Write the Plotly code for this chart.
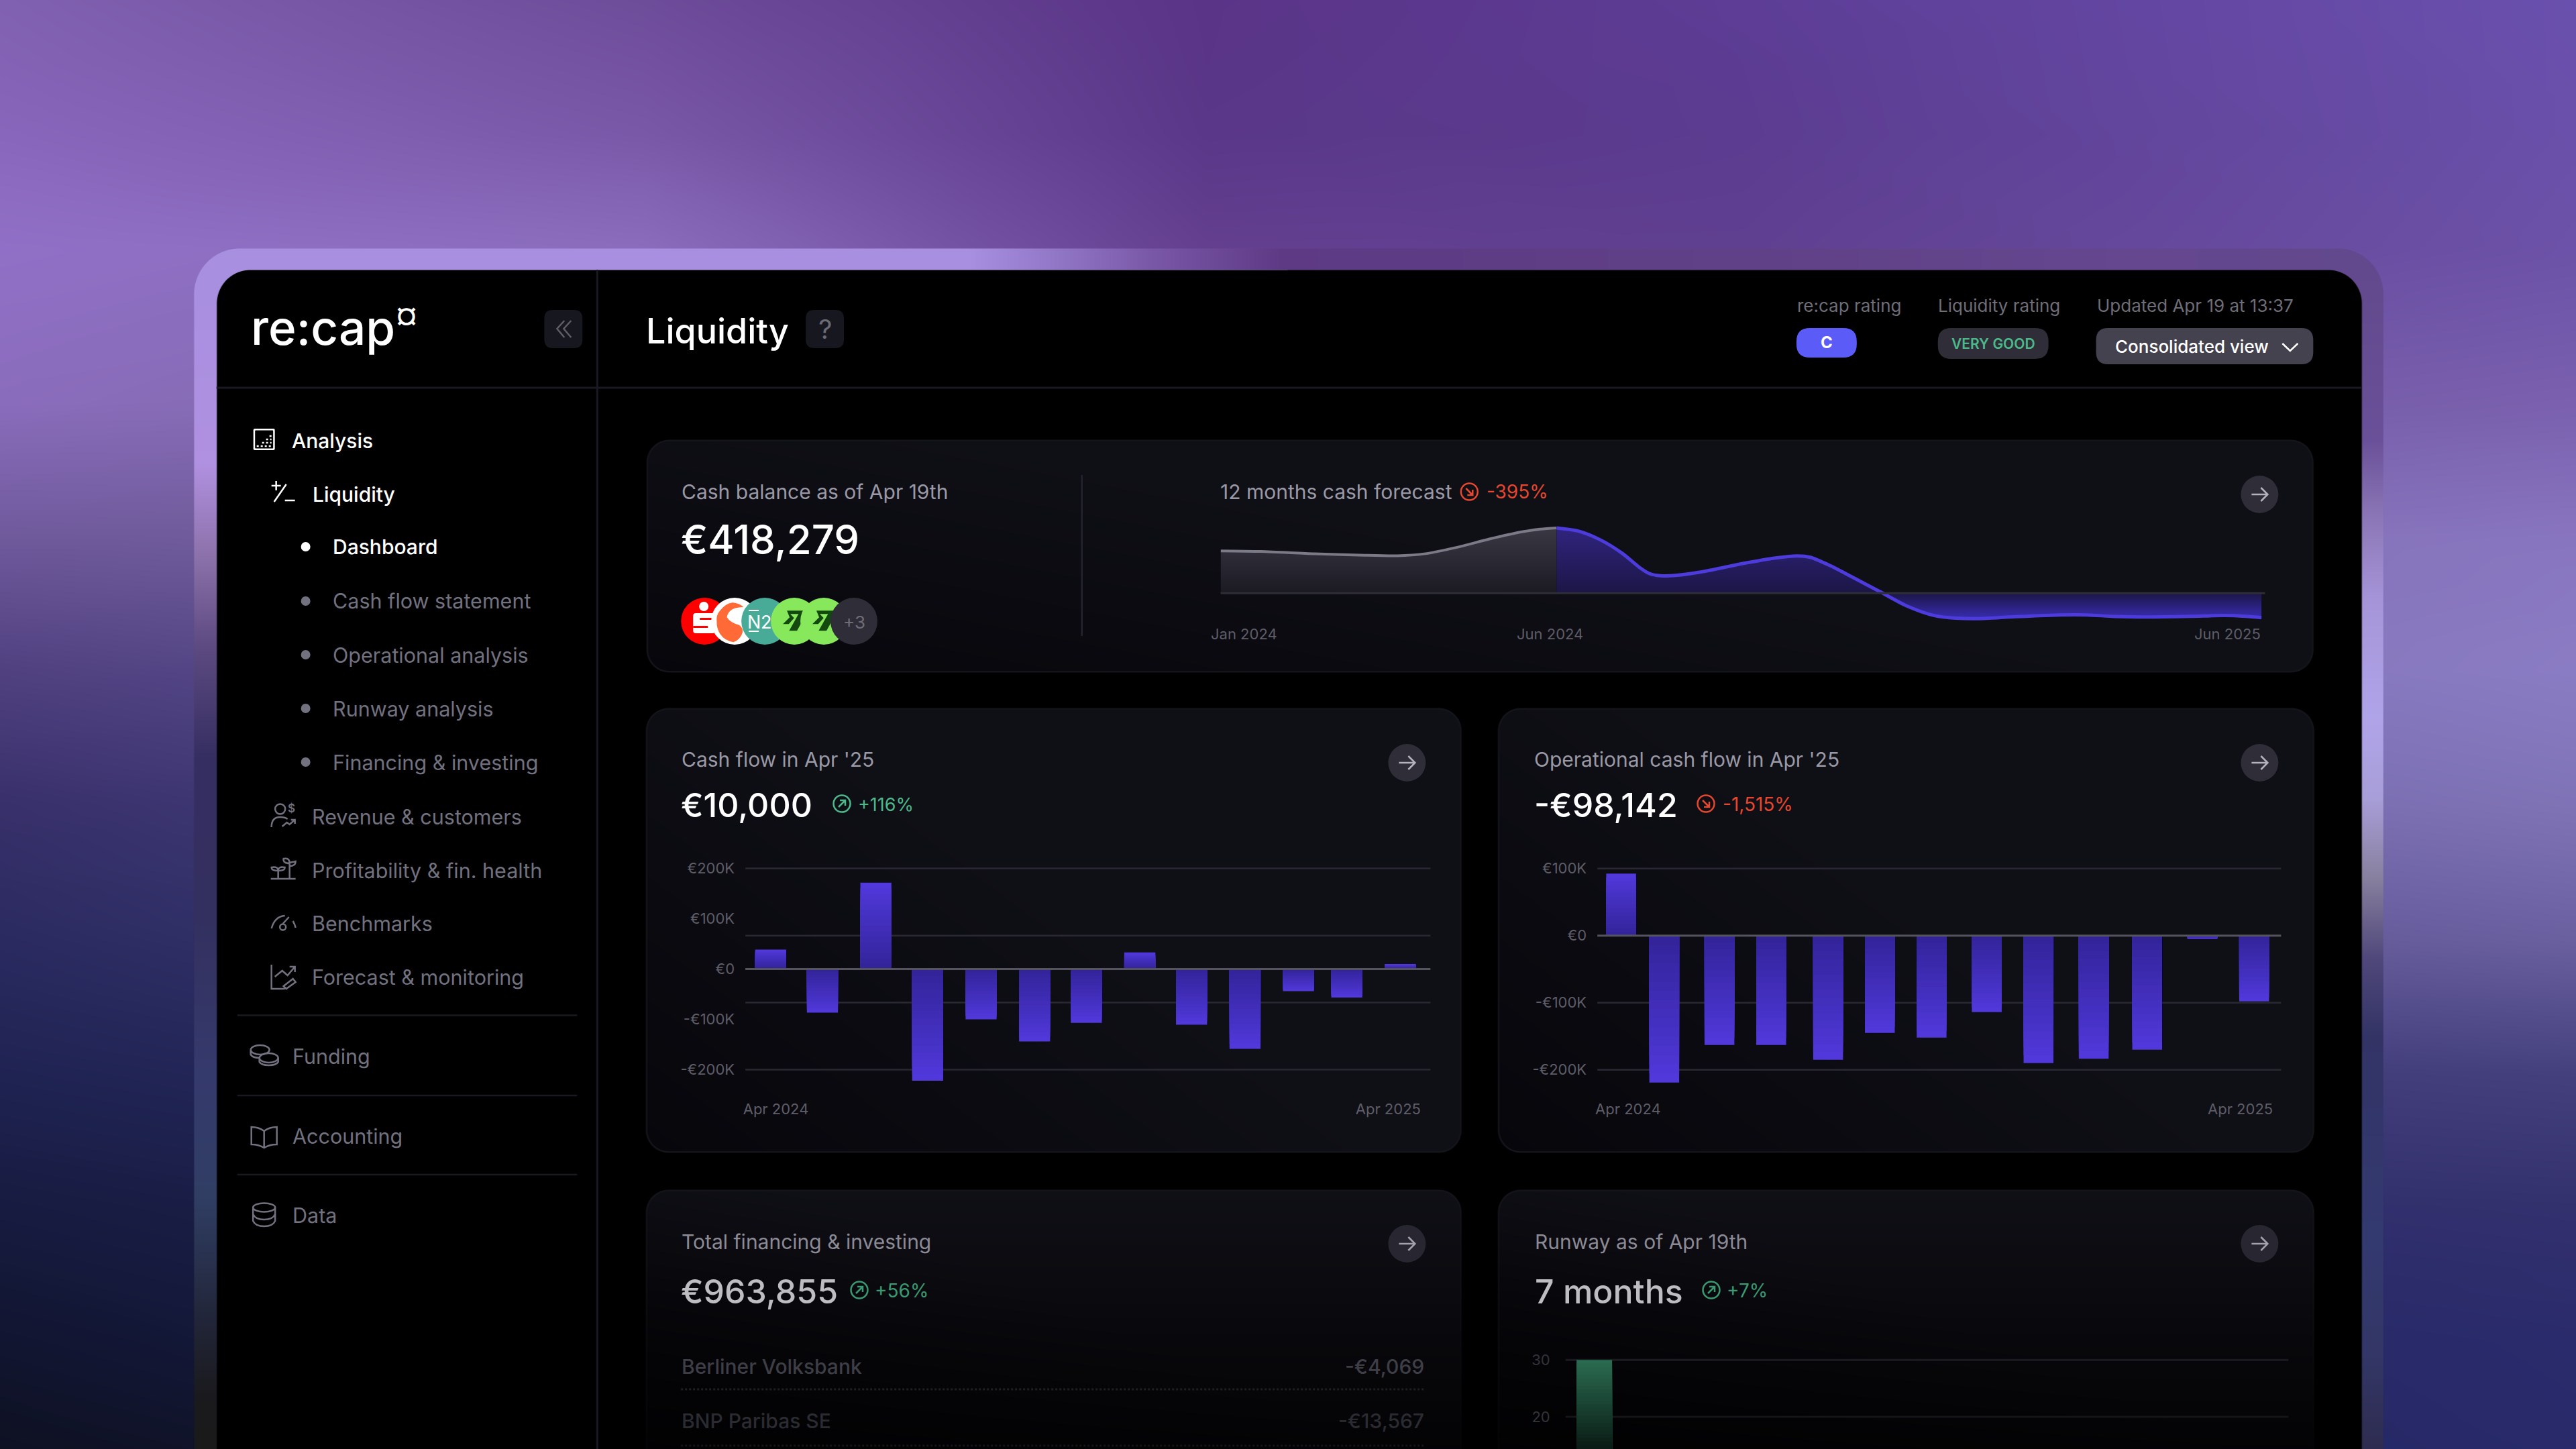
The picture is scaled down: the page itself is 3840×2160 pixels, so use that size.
import base64, re, struct, zlib
import numpy as np
import plotly.graph_objects as go

W, H = 3840, 2160
PAD = 6
FW = W + 2 * PAD
FONT = "Inter"

# ------------------------------------------------------------------ data
cash_flow_dates = ["2024-04-01", "2024-05-01", "2024-06-01", "2024-07-01", "2024-08-01", "2024-09-01", "2024-10-01",
                   "2024-11-01", "2024-12-01", "2025-01-01", "2025-02-01", "2025-03-01", "2025-04-01"]
cash_flow_k = [38.7, -86.7, 171.7, -222, -100, -143.9, -106.9, 33, -110.4, -158.4, -43.9, -56.6, 10]
cash_flow_grid_k = [200, 66.5, -66.5, -200]
cash_flow_ticks = [200, 100, 0, -100, -200]
cash_flow_labels = ["€200K", "€100K", "€0", "-€100K", "-€200K"]

op_flow_dates = ["2024-04-06", "2024-05-01", "2024-06-02", "2024-07-02", "2024-08-04", "2024-09-03", "2024-10-03",
                 "2024-11-04", "2024-12-04", "2025-01-05", "2025-02-05", "2025-03-09", "2025-04-08"]
op_flow_k = [92.4, -219, -163, -163, -185, -145, -152, -114, -190, -183.5, -170, -5, -98.1]
op_flow_grid_k = [100, -100, -200]
op_flow_ticks = [100, 0, -100, -200]
op_flow_labels = ["€100K", "€0", "-€100K", "-€200K"]

history_month = [0, 0.6, 1.4, 2.06, 2.63, 3.03, 3.52, 4.01, 4.5, 4.76, 5]
history_k = [271, 267, 252, 244, 240, 252, 294, 348, 394, 410, 418]
forecast_month = [0, 0.37, 0.75, 1.12, 1.4, 1.58, 1.77, 2.05, 2.52, 3.17, 3.73, 4.1, 4.32, 4.66, 5.03, 5.5,
                  5.96, 6.43, 6.8, 7.17, 7.82, 8.57, 9.03, 9.5, 10.06, 10.8, 11.36, 11.73, 12]
forecast_k = [418, 398, 341, 255, 169, 126, 112, 115, 140, 190, 226, 239, 230, 176, 104, 11,
              -81, -143, -160, -163, -150, -139, -139, -149, -152, -148, -143, -148, -156]

runway_x = [0]
runway_months = [30]
runway_ticks = [30, 20]

nav_white = [("Analysis", 433, 657), ("Liquidity", 464, 737), ("Dashboard", 494, 815)]
nav_sub = [("Cash flow statement", 494, 896), ("Operational analysis", 494, 976),
           ("Runway analysis", 494, 1056), ("Financing & investing", 494, 1136)]
nav_main = [("Revenue & customers", 463, 1217), ("Profitability & fin. health", 463, 1297),
            ("Benchmarks", 463, 1376), ("Forecast & monitoring", 463, 1456),
            ("Funding", 434, 1574), ("Accounting", 434, 1693), ("Data", 434, 1811)]


# ------------------------------------------------------------------ backdrop raster (decoration only)
def hx(s):
    s = s.lstrip("#")
    return [int(s[i:i + 2], 16) for i in (0, 2, 4)]


def ramp(pos, cols, coords):
    c = np.array([hx(k) for k in cols], dtype=np.float32)
    return np.stack([np.interp(coords, pos, c[:, i]) for i in range(3)], axis=-1).astype(np.float32)


def backdrop():
    ys = np.arange(H, dtype=np.float32)
    xs = np.arange(FW, dtype=np.float32) - PAD
    X, Y = np.meshgrid(xs, ys)
    rows = [0, 200, 370, 600, 800, 1000, 1200, 1400, 1600, 1800, 2000, 2160]
    col_x = [0, 960, 1800, 2600, 3840]
    grid = [
        ["#8060b0", "#6d4c9a", "#5a3487", "#5d3d96", "#6a50ae"],
        ["#8866bb", "#7a58a8", "#5a3788", "#5b3c90", "#6a50aa"],
        ["#9070c6", "#8a6cbc", "#643f90", "#5f3f90", "#6c52a8"],
        ["#8a6cbc", "#806aaa", "#705aa0", "#7058a0", "#7a60ae"],
        ["#6f5a9c", "#706099", "#7868a8", "#8070b0", "#8875c0"],
        ["#504080", "#5a5090", "#6a6098", "#8070b0", "#8a7cc4"],
        ["#38306a", "#444080", "#5a5090", "#7064a8", "#7f73b6"],
        ["#2a2a60", "#3a3870", "#484480", "#5a5090", "#6a60a0"],
        ["#1f2352", "#282a60", "#303068", "#3a3870", "#44407e"],
        ["#171b40", "#1e2250", "#242860", "#2c2c68", "#33306e"],
        ["#111530", "#181c48", "#1e2258", "#242660", "#2a2b6c"],
        ["#0e1122", "#141838", "#1a1e50", "#20245c", "#282a6a"],
    ]
    g = np.array([[hx(c) for c in r] for r in grid], dtype=np.float32)
    by_col = np.stack([np.stack([np.interp(ys, rows, g[:, j, k]) for j in range(5)], -1) for k in range(3)], -1)
    img = np.stack([np.stack([np.interp(xs, col_x, by_col[r, :, k]) for r in range(0, H, 8)], 0) for k in range(3)], -1)
    img = img.astype(np.float32)
    # expand the coarse rows
    idx = np.arange(H) / 8.0
    i0 = np.clip(np.floor(idx).astype(int), 0, img.shape[0] - 2)
    f = (idx - i0)[:, None, None].astype(np.float32)
    img = img[i0] * (1 - f) + img[i0 + 1] * f

    def rr(x0, y0, x1, y1, r):
        cx, cy = (x0 + x1) / 2, (y0 + y1) / 2
        qx = np.abs(X - cx) - ((x1 - x0) / 2 - r)
        qy = np.abs(Y - cy) - ((y1 - y0) / 2 - r)
        return np.hypot(np.maximum(qx, 0), np.maximum(qy, 0)) + np.minimum(np.maximum(qx, qy), 0) - r

    def paint(col, a):
        nonlocal img
        img = img * (1 - a[..., None]) + col * a[..., None]

    # bright frame around the app window
    cl = ramp([402, 691, 834, 964, 1130, 1367, 1605, 1783, 1960, 2079, 2160],
              ["#a88fe0", "#b090e0", "#8a70a8", "#5c4a80", "#352e60", "#33305f", "#353a6c", "#303e64", "#22263a",
               "#1a1a1e", "#1a1a1a"], ys)
    cr = ramp([402, 656, 775, 893, 1071, 1190, 1308, 1427, 1545, 1842, 2020, 2160],
              ["#62488c", "#6a5098", "#8c78b8", "#a594d8", "#b0a4e8", "#a89ed8", "#88809f", "#50487a", "#333366",
               "#333a70", "#333666", "#2e2c50"], ys)
    ct = ramp([288, 1445, 1568, 1715, 1911, 2450, 3186, 3554],
              ["#a88fe0", "#a88fe0", "#9378c8", "#7a58a8", "#5e3a85", "#5f3f85", "#64478f", "#62488c"], xs)
    frame = np.where((X < 1920)[..., None], cl[:, None, :], cr[:, None, :])
    frame = np.where((Y < 402)[..., None], ct[None, :, :], frame).astype(np.float32)
    paint(frame, np.clip(0.5 - rr(288, 370, 3554, 2400, 68), 0, 1))

    # black app panel
    paint(np.zeros(3, dtype=np.float32), np.clip(0.5 - rr(322, 402, 3522, 2400, 50), 0, 1))

    # cards
    dark = np.array(hx("#06060b"), dtype=np.float32)
    light = np.array(hx("#0f0f16"), dtype=np.float32)
    edge = np.array(hx("#14141b"), dtype=np.float32)
    for x0, y0, x1, y1, fade in [(963, 655, 3450, 1002, False), (962, 1055, 2179, 1718, False),
                                 (2233, 1055, 3451, 1718, False), (962, 1773, 2179, 2400, True),
                                 (2233, 1773, 3451, 2400, True)]:
        d = rr(x0, y0, x1, y1, 34)
        u = np.clip((X - x0) / (x1 - x0), 0, 1)
        v = np.clip((Y - y0) / (min(y1, H) - y0), 0, 1)
        t = np.clip(u * 1.1 + (1 - v) * 0.8, 0, 1)[..., None]
        fill = dark * (1 - t) + light * t
        e = np.broadcast_to(edge, fill.shape)
        if fade:
            k = (1 - 0.78 * np.clip((Y - y0) / (H - y0), 0, 1))[..., None]
            fill = fill * k
            e = e * k
        paint(e.astype(np.float32), np.clip(0.5 - d, 0, 1))
        paint(fill.astype(np.float32), np.clip(0.5 - (d + 2.5), 0, 1))
    return np.clip(img + 0.5, 0, 255).astype(np.uint8)


def png_uri(a):
    h, w, _ = a.shape
    raw = a.astype(np.int16)
    up = (raw - np.vstack([np.zeros((1, w, 3), dtype=np.int16), raw[:-1]])) % 256
    body = np.concatenate([np.full((h, 1), 2, dtype=np.uint8), up.astype(np.uint8).reshape(h, -1)], axis=1).tobytes()

    def chunk(tag, d):
        return struct.pack(">I", len(d)) + tag + d + struct.pack(">I", zlib.crc32(tag + d) & 0xffffffff)

    data = b"\x89PNG\r\n\x1a\n" + chunk(b"IHDR", struct.pack(">IIBBBBB", w, h, 8, 2, 0, 0, 0)) + \
        chunk(b"IDAT", zlib.compress(body, 6)) + chunk(b"IEND", b"")
    return "data:image/png;base64," + base64.b64encode(data).decode()


# ------------------------------------------------------------------ px helpers
shapes, annos = [], []


def px(x): return (x + PAD) / FW
def py(y): return 1 - y / H


def path_px(s):
    out, is_x = [], True
    for tok in re.findall(r"[A-Za-z]|-?\d+\.?\d*", s):
        if tok.isalpha():
            out.append(tok)
            is_x = True
        else:
            out.append(f"{px(float(tok)) if is_x else py(float(tok)):.6f}")
            is_x = not is_x
    return " ".join(out)


def sh_path(s, fill=None, line=None, lw=0, layer="above", dash=None):
    d = dict(type="path", path=path_px(s), xref="paper", yref="paper", layer=layer,
             line=dict(width=lw, color=line or "rgba(0,0,0,0)"))
    if dash:
        d["line"]["dash"] = dash
    d["fillcolor"] = fill or "rgba(0,0,0,0)"
    shapes.append(d)


def rrect(x0, y0, x1, y1, r, fill):
    sh_path(f"M{x0 + r},{y0} L{x1 - r},{y0} Q{x1},{y0} {x1},{y0 + r} L{x1},{y1 - r} Q{x1},{y1} {x1 - r},{y1} "
            f"L{x0 + r},{y1} Q{x0},{y1} {x0},{y1 - r} L{x0},{y0 + r} Q{x0},{y0} {x0 + r},{y0} Z", fill=fill)


def ell(cx, cy, rx, ry, fill=None, line=None, lw=0):
    shapes.append(dict(type="circle", xref="paper", yref="paper", x0=px(cx - rx), x1=px(cx + rx), y0=py(cy + ry),
                       y1=py(cy - ry), fillcolor=fill or "rgba(0,0,0,0)", layer="above",
                       line=dict(width=lw, color=line or "rgba(0,0,0,0)")))


def hline(x0, x1, y, col, w=2, dash=None, layer="below"):
    ln = dict(color=col, width=w)
    if dash:
        ln["dash"] = dash
    shapes.append(dict(type="line", xref="paper", yref="paper", x0=px(x0), x1=px(x1), y0=py(y), y1=py(y), line=ln,
                       layer=layer))


def vline(x, y0, y1, col, w=2):
    shapes.append(dict(type="line", xref="paper", yref="paper", x0=px(x), x1=px(x), y0=py(y0), y1=py(y1),
                       line=dict(color=col, width=w), layer="below"))


def txt(x, y, s, size, col, anchor="left", weight=400, family=FONT):
    annos.append(dict(x=px(x), y=py(y), xref="paper", yref="paper", text=s, showarrow=False, xanchor=anchor,
                      yanchor="middle", borderpad=0, font=dict(family=family, size=size, color=col, weight=weight)))


def arrow_button(cx, cy, col="#b4b3bd", fill="#2e2d38"):
    ell(cx, cy, 28, 28, fill=fill)
    sh_path(f"M{cx - 12},{cy} L{cx + 12},{cy} M{cx + 2},{cy - 10} L{cx + 12},{cy} L{cx + 2},{cy + 10}", line=col, lw=2.5)


def trend_icon(cx, cy, col, up=True):
    ell(cx, cy, 12.5, 12.5, line=col, lw=2.5)
    if up:
        sh_path(f"M{cx - 5},{cy + 5} L{cx + 5},{cy - 5} M{cx - 3},{cy - 5} L{cx + 5},{cy - 5} L{cx + 5},{cy + 3}",
                line=col, lw=2.5)
    else:
        sh_path(f"M{cx - 5},{cy - 5} L{cx + 5},{cy + 5} M{cx - 3},{cy + 5} L{cx + 5},{cy + 5} L{cx + 5},{cy - 3}",
                line=col, lw=2.5)


GREY = "#72717f"
LABEL = "#9a99a5"
TICK = "#5e5d68"
GREEN = "#4db88a"
RED = "#e5472f"
SEP = "#191922"

# separators
hline(322, 3522, 578, SEP, 3)
vline(890, 402, 2160, SEP, 3)
for yy in (1513.5, 1633, 1751):
    hline(353, 860, yy, SEP, 2.5)
vline(1613, 708, 948, "#24242e", 2.5)

# logo + header
txt(372, 488, "re:cap", 71, "#ffffff", weight=500)
txt(605, 470, "¤", 42, "#ffffff", "center", weight=700)
rrect(811, 462, 868, 519, 13, "#17171f")
sh_path("M841,478 L830,490 L841,503 M851,478 L840,490 L851,503", line="#5e5d68", lw=2.5)
txt(962, 493, "Liquidity", 52, "#ffffff", weight=500)
rrect(1201, 462, 1258, 519, 13, "#17171f")
txt(1229.5, 491, "?", 40, "#6c6c76", "center")

txt(2679, 455, "re:cap rating", 26, "#6e6d78")
txt(2889, 455, "Liquidity rating", 26, "#6e6d78")
txt(3126, 455, "Updated Apr 19 at 13:37", 26, "#6e6d78")
rrect(2679, 489, 2769, 533, 20, "#5b5cf8")
txt(2724, 511, "C", 24, "#ffffff", "center", weight=700)
rrect(2890, 489, 3055, 535, 20, "#2e2d38")
txt(2972.5, 512, "VERY GOOD", 21, GREEN, "center", weight=600)
rrect(3126, 489, 3450, 543, 18, "#45424f")
txt(3153, 516, "Consolidated view", 26, "#ffffff", weight=500)
sh_path("M3404,512 L3415.5,523 L3427,512", line="#ffffff", lw=2.5)

# nav text
for s, x, y in nav_white:
    txt(x, y, s, 30, "#ffffff", weight=500)
for s, x, y in nav_sub + nav_main:
    txt(x, y, s, 30.5, GREY)
ell(455, 815, 7, 7, fill="#ffffff")
for _, _, y in nav_sub:
    ell(455, y, 7, 7, fill=GREY)

# nav icons
rrect(377, 639, 409, 671, 2, "rgba(255,255,255,1)")
rrect(379.5, 641.5, 406.5, 668.5, 1, "#000000")
sh_path("M382,665 L404,665 M390,660 L404,660 M396,655 L404,655 M401,650 L404,650", line="#ffffff", lw=2.5, dash="dot")
sh_path("M404,724 L418,724 M411,717 L411,731 M408,748 L426,722 M424,746 L439,746", line="#ffffff", lw=2.5)
ic = GREY
ell(417, 1206, 7.5, 7.5, line=ic, lw=2.5)
sh_path("M404,1233 Q404,1218 417,1218 Q424,1218 428,1221 M420,1232 L427,1226 L431,1229 L439,1222 M433,1222 L439,1222 L439,1228",
        line=ic, lw=2.5)
txt(434, 1205, "$", 17, ic, "center", weight=600)
sh_path("M403,1310 L440,1310 M431,1310 L431,1285 M414,1310 L414,1298 M431,1287 Q421,1287 422,1280 Q431,1278 431,1287 "
        "M431,1286 L440,1284 Q440,1291 431,1291 M414,1298 Q404,1298 404,1293 Q414,1291 414,1298 "
        "M414,1298 Q424,1298 424,1293 Q414,1291 414,1298", line=ic, lw=2.5)
sh_path("M404,1384 Q409,1366 424,1365 M430,1367 L421,1377 M436,1373 Q439,1378 440,1383", line=ic, lw=2.5)
ell(421, 1382, 4.5, 4.5, line=ic, lw=2.5)
sh_path("M404,1438 L404,1474 L424,1474 M409,1456 L420,1447 L428,1454 L439,1441 M431,1441 L439,1441 L439,1449 "
        "M422,1470 L436,1459 L440,1464 L426,1474 Z", line=ic, lw=2.5)
ell(387, 1565, 14, 7, line=ic, lw=2.5)
ell(400, 1577, 14, 7, line=ic, lw=2.5)
sh_path("M373,1566 L373,1572 Q376,1577 386,1577 M386,1577 L386,1583 Q389,1588 400,1588 Q411,1588 414,1583 L414,1577",
        line=ic, lw=2.5)
sh_path("M393,1686 Q385,1680 374,1680 L374,1706 Q385,1706 393,1711 Q401,1706 412,1706 L412,1680 Q401,1680 393,1686 L393,1711",
        line=ic, lw=2.5)
ell(393, 1800, 16.5, 6.5, line=ic, lw=2.5)
sh_path("M376.5,1800 L376.5,1820 Q380,1828 393,1828 Q406,1828 409.5,1820 L409.5,1800 M376.5,1810 Q380,1818 393,1818 "
        "Q406,1818 409.5,1810", line=ic, lw=2.5)

# top card texts
txt(1015, 733, "Cash balance as of Apr 19th", 30, LABEL)
txt(1014, 804, "€418,279", 60, "#ffffff", weight=500)
txt(1818, 733, "12 months cash forecast", 30, LABEL)
trend_icon(2191, 733, RED, up=False)
txt(2216, 733, "-395%", 28, RED)
arrow_button(3370, 737)

# account logos
ell(1050, 926, 35, 35, fill="#ff0000")
ell(1049, 904, 7, 7, fill="#ffffff")
rrect(1033, 914, 1066, 944, 4, "#ffffff")
rrect(1043, 921, 1066, 924, 0.5, "#ff0000")
rrect(1033, 933, 1055, 936, 0.5, "#ff0000")
ell(1095, 926, 35, 35, fill="#ffffff")
sh_path("M1091.7,898.3 Q1102,899 1108.3,905 Q1086,905 1083.3,920 Q1088,928 1101.7,931.7 Q1108,936 1106.7,943.3 "
        "Q1103,954 1093.3,957.3 Q1080,955 1073.3,945 Q1068,937 1068.3,926.7 Q1067,917 1073.3,910 Q1081,900 1091.7,898.3 Z",
        fill="#ff6a36")
ell(1140, 926, 35, 35, fill="#48ab97")
txt(1123.5, 927, "N", 27, "#ffffff", "center")
txt(1141.7, 927, "2", 27, "#ffffff", "center")
hline(1116, 1131, 910, "#ffffff", 2, layer="above")
hline(1116, 1131, 941, "#ffffff", 2, layer="above")
for cx in (1184, 1228):
    ell(cx, 926, 35, 35, fill="#88e85c")
    sh_path(f"M{cx - 11},910.3 L{cx + 20.7},910.3 L{cx + 4},940.3 L{cx - 7.7},940.3 L{cx + 6.3},915.3 L{cx - 6},915.3 "
            f"L{cx - 0.3},921.3 L{cx - 8.3},930.3 L{cx - 17},930.3 L{cx - 7},920.3 Z", fill="#13480e")
ell(1273, 926, 35, 35, fill="#2e2d38")
txt(1273, 928, "+3", 26, "#6e6d78", "center")

# middle cards
txt(1015, 1132, "Cash flow in Apr '25", 30, LABEL)
txt(1014, 1200, "€10,000", 50, "#ffffff", weight=500)
trend_icon(1255, 1198, GREEN)
txt(1278, 1199, "+116%", 27, GREEN)
arrow_button(2098, 1137)
txt(2287, 1132, "Operational cash flow in Apr '25", 30, LABEL)
txt(2287, 1200, "-€98,142", 50, "#ffffff", weight=500)
trend_icon(2544, 1198, RED, up=False)
txt(2568, 1199, "-1,515%", 28, RED)
arrow_button(3370, 1137)

# bottom cards
txt(1015, 1851, "Total financing & investing", 30, "#8b8a95")
txt(1014, 1925, "€963,855", 50, "#bdbdc2", weight=500)
trend_icon(1281, 1923, "#3a9a72")
txt(1303, 1924, "+56%", 28, "#3a9a72")
arrow_button(2098, 1854, col="#a4a3ad", fill="#282731")
txt(2288, 1851, "Runway as of Apr 19th", 30, "#8b8a95")
txt(2288, 1925, "7 months", 50, "#bdbdc2", weight=500)
trend_icon(2552, 1923, "#3a9a72")
txt(2574, 1924, "+7%", 28, "#3a9a72")
arrow_button(3370, 1854, col="#a4a3ad", fill="#282731")
txt(1015, 2037, "Berliner Volksbank", 30, "#3e3e46", weight=500)
txt(2125, 2037, "-€4,069", 30, "#3e3e46", "right", weight=500)
hline(1015, 2125, 2071, "#1e1e25", 3, dash="dot")
txt(1015, 2118, "BNP Paribas SE", 30, "#2b2b32", weight=500)
txt(2125, 2118, "-€13,567", 30, "#2b2b32", "right", weight=500)
hline(1015, 2125, 2155, "#141419", 3, dash="dot")

# ------------------------------------------------------------------ traces
fig = go.Figure()
LAYERS = 16
BRIGHT = np.array(hx("#5038da"), dtype=float)
DEEP = np.array(hx("#33249a"), dtype=float)


def gradient_bars(x, vals, xa, ya, width, c_tip=BRIGHT, c_base=DEEP, lo=0.0, n=LAYERS):
    for i in range(n):
        frac = 1 - i / n
        f = lo + (1 - lo) * frac
        t = 1 - i / (n - 1)
        c = c_base + (c_tip - c_base) * t
        fig.add_trace(go.Bar(x=x, y=[v * f for v in vals], xaxis=xa, yaxis=ya, width=width,
                             marker=dict(color=f"rgb({c[0]:.0f},{c[1]:.0f},{c[2]:.0f})", line=dict(width=0)),
                             hoverinfo="skip", showlegend=False))


DAY = 86400000
gradient_bars(cash_flow_dates, cash_flow_k, "x", "y", 18 * DAY)
gradient_bars(op_flow_dates, op_flow_k, "x2", "y2", 17.3 * DAY)

fig.add_trace(go.Scatter(x=history_month, y=history_k, xaxis="x3", yaxis="y3", mode="lines", fill="tozeroy",
                         line=dict(color="#7c7a86", width=4, shape="spline", smoothing=0.8),
                         fillgradient=dict(type="vertical", start=0, stop=418,
                                           colorscale=[[0, "#1b1a23"], [1, "#3a3843"]]),
                         hoverinfo="skip", showlegend=False))
fig.add_trace(go.Scatter(x=forecast_month, y=forecast_k, xaxis="x4", yaxis="y4", mode="lines", fill="tozeroy",
                         line=dict(color="#4e3bdc", width=5, shape="spline", smoothing=0.8),
                         fillgradient=dict(type="vertical", start=-165, stop=418,
                                           colorscale=[[0, "#3a2cb4"], [0.283, "#1b1646"], [1, "#30247e"]]),
                         hoverinfo="skip", showlegend=False))

gradient_bars(runway_x, runway_months, "x5", "y5", 1, c_tip=np.array(hx("#2a6a50"), dtype=float),
              c_base=np.array(hx("#0a1c15"), dtype=float), lo=0.478, n=24)

# gridlines that the axes do not carry
for v in cash_flow_grid_k:
    shapes.append(dict(type="line", xref="x domain", yref="y", x0=0, x1=1, y0=v, y1=v, layer="below",
                       line=dict(color="#2a2933", width=2.5)))
for v in op_flow_grid_k:
    shapes.append(dict(type="line", xref="x2 domain", yref="y2", x0=0, x1=1, y0=v, y1=v, layer="below",
                       line=dict(color="#2a2933", width=2.5)))
for xa, ya in (("x domain", "y"), ("x2 domain", "y2")):
    shapes.append(dict(type="line", xref=xa, yref=ya, x0=0, x1=1, y0=0, y1=0, layer="above",
                       line=dict(color="#55545e", width=3)))
hline(1820, 3378, 884.3, "#2f2d38", 3, layer="above")
for v in runway_ticks:
    shapes.append(dict(type="line", xref="x5 domain", yref="y5", x0=0, x1=1, y0=v, y1=v, layer="below",
                       line=dict(color="#1b1b22" if v == 30 else "#141419", width=3)))

# top chart date labels
txt(1855, 945, "Jan 2024", 22, TICK, "center")
txt(2311, 945, "Jun 2024", 22, TICK, "center")
txt(3322, 945, "Jun 2025", 22, TICK, "center")


def xdom(a, b): return [px(a), px(b)]
def ydom(top, bot): return [1 - bot / H, 1 - top / H]


tick_font = dict(family=FONT, size=22, color=TICK)
base_x = dict(showgrid=False, zeroline=False, showline=False, ticks="", fixedrange=True)
base_y = dict(showgrid=False, zeroline=False, showline=False, ticks="", fixedrange=True)

fig.update_layout(
    width=FW, height=H, margin=dict(l=0, r=0, t=0, b=0, pad=0), autosize=False,
    paper_bgcolor="#000000", plot_bgcolor="rgba(0,0,0,0)", barmode="overlay", showlegend=False,
    hovermode=False, font=dict(family=FONT),
    images=[dict(source=png_uri(backdrop()), xref="paper", yref="paper", x=0, y=1, sizex=1, sizey=1,
                 xanchor="left", yanchor="top", sizing="stretch", layer="below")],
    shapes=shapes, annotations=annos,
    xaxis=dict(base_x, domain=xdom(1111, 2133), type="date", range=["2024-03-17 08:00", "2025-04-18 12:00"],
               tickmode="array", tickvals=["2024-04-04", "2025-03-25"], ticktext=["Apr 2024", "Apr 2025"],
               tickfont=tick_font, ticklabelstandoff=18, anchor="y"),
    yaxis=dict(base_y, domain=ydom(1270, 1620), range=[-233.9, 232.8], tickmode="array", tickvals=cash_flow_ticks,
               ticktext=cash_flow_labels, tickfont=tick_font, ticklabelstandoff=15, anchor="x"),
    xaxis2=dict(base_x, domain=xdom(2382, 3402), type="date", range=["2024-03-23 05:00", "2025-04-23 15:00"],
                tickmode="array", tickvals=["2024-04-10", "2025-03-31"], ticktext=["Apr 2024", "Apr 2025"],
                tickfont=tick_font, ticklabelstandoff=18, anchor="y2"),
    yaxis2=dict(base_y, domain=ydom(1270, 1620), range=[-225.3, 124.7], tickmode="array", tickvals=op_flow_ticks,
                ticktext=op_flow_labels, tickfont=tick_font, ticklabelstandoff=15, anchor="x2"),
    xaxis3=dict(base_x, domain=xdom(1820, 2321), range=[0, 5], showticklabels=False, anchor="y3"),
    yaxis3=dict(base_y, domain=ydom(760, 930), range=[-196.2, 533.7], showticklabels=False, anchor="x3"),
    xaxis4=dict(base_x, domain=xdom(2321, 3373), range=[0, 12], showticklabels=False, anchor="y4"),
    yaxis4=dict(base_y, domain=ydom(760, 930), range=[-196.2, 533.7], showticklabels=False, anchor="x4"),
    xaxis5=dict(base_x, domain=xdom(2334.5, 3413), range=[-0.811, 19.54], showticklabels=False, anchor="y5"),
    yaxis5=dict(base_y, domain=ydom(2000, 2160), range=[14.35, 33.2], tickmode="array", tickvals=runway_ticks,
                ticktext=["30", "20"], tickfont=dict(family=FONT, size=22, color="#33333a"), ticklabelstandoff=22,
                anchor="x5"),
)
fig.write_html("out.html", config=dict(displayModeBar=False),
               post_script="document.body.style.margin='0';document.documentElement.style.overflow='hidden';"
                           "document.documentElement.style.background='#000';"
                           "var g=document.querySelector('.plotly-graph-div');g.style.position='fixed';"
                           "g.style.left='-8px';g.style.top='0';g.style.margin='0';")
